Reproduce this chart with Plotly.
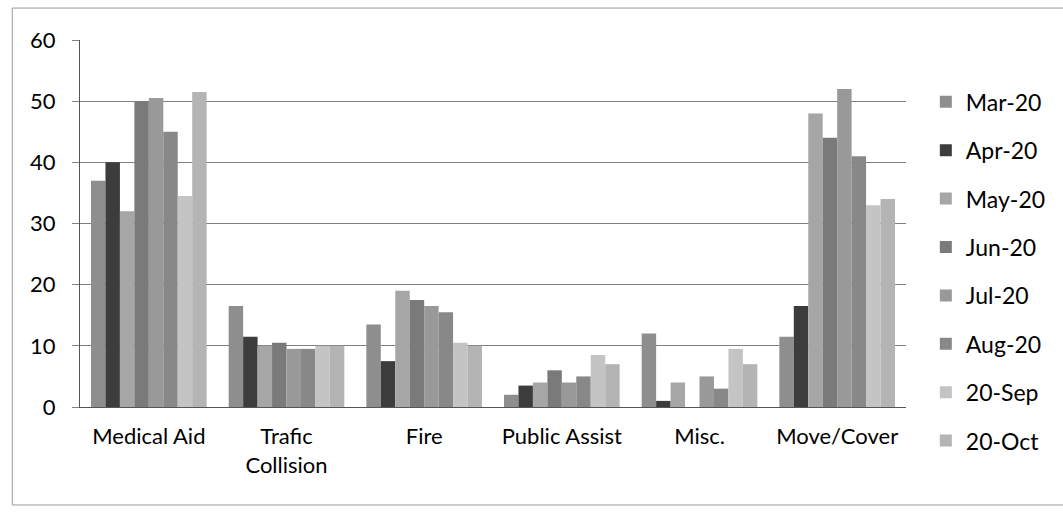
import plotly.graph_objects as go

# Incident categories on the x axis
categories = ["Medical Aid", "Trafic<br>Collision", "Fire", "Public Assist", "Misc.", "Move/Cover"]

# Monthly call counts per category
months = ["Mar-20", "Apr-20", "May-20", "Jun-20", "Jul-20", "Aug-20", "20-Sep", "20-Oct"]
mar_20 = [37, 16.5, 13.5, 2, 12, 11.5]
apr_20 = [40, 11.5, 7.5, 3.5, 1, 16.5]
may_20 = [32, 10, 19, 4, 4, 48]
jun_20 = [50, 10.5, 17.5, 6, 0, 44]
jul_20 = [50.5, 9.5, 16.5, 4, 5, 52]
aug_20 = [45, 9.5, 15.5, 5, 3, 41]
sep_20 = [34.5, 10, 10.5, 8.5, 9.5, 33]
oct_20 = [51.5, 10, 10, 7, 7, 34]
series = [mar_20, apr_20, may_20, jun_20, jul_20, aug_20, sep_20, oct_20]

y_ticks = [0, 10, 20, 30, 40, 50, 60]

grays = ["#8e8e8e", "#3c3c3c", "#a6a6a6", "#7a7a7a", "#999999", "#888888", "#c4c4c4", "#b4b4b4"]

fig = go.Figure()
for name, vals, color in zip(months, series, grays):
    fig.add_trace(go.Bar(
        name=name, x=categories, y=vals,
        marker=dict(color=color, line=dict(width=0)),
        legendgroup=name,
    ))

font_family = "Lato, 'Open Sans', sans-serif"

fig.update_layout(
    width=1063, height=514,
    margin=dict(l=80, r=153, t=40, b=107),
    paper_bgcolor="white", plot_bgcolor="white",
    barmode="group", bargap=0.16, bargroupgap=0,
    font=dict(family=font_family, size=22, color="#000000"),
    showlegend=True,
    legend=dict(
        x=1.024, xanchor="left", y=0.89, yanchor="top",
        traceorder="grouped", tracegroupgap=15.5,
        font=dict(size=23, color="#000000"),
        bgcolor="rgba(0,0,0,0)",
        maxheight=430,
    ),
    xaxis=dict(
        showline=True, linecolor="#555555", linewidth=1,
        showgrid=False, ticks="", ticklabelstandoff=10,
        tickfont=dict(size=22),
    ),
    yaxis=dict(
        range=[0, 60], tickvals=y_ticks,
        showgrid=True, gridcolor="#808080", gridwidth=1,
        showline=True, linecolor="#555555", linewidth=1,
        ticks="outside", ticklen=7, tickcolor="#808080",
        ticklabelstandoff=12, zeroline=False,
        tickfont=dict(size=22),
    ),
    shapes=[dict(
        type="rect", xref="paper", yref="paper",
        x0=-0.082, x1=1.2, y0=-0.267, y1=1.087,
        line=dict(color="#9a9a9a", width=1), fillcolor="rgba(0,0,0,0)",
        layer="below",
    )],
)

fig.write_html("out.html")
